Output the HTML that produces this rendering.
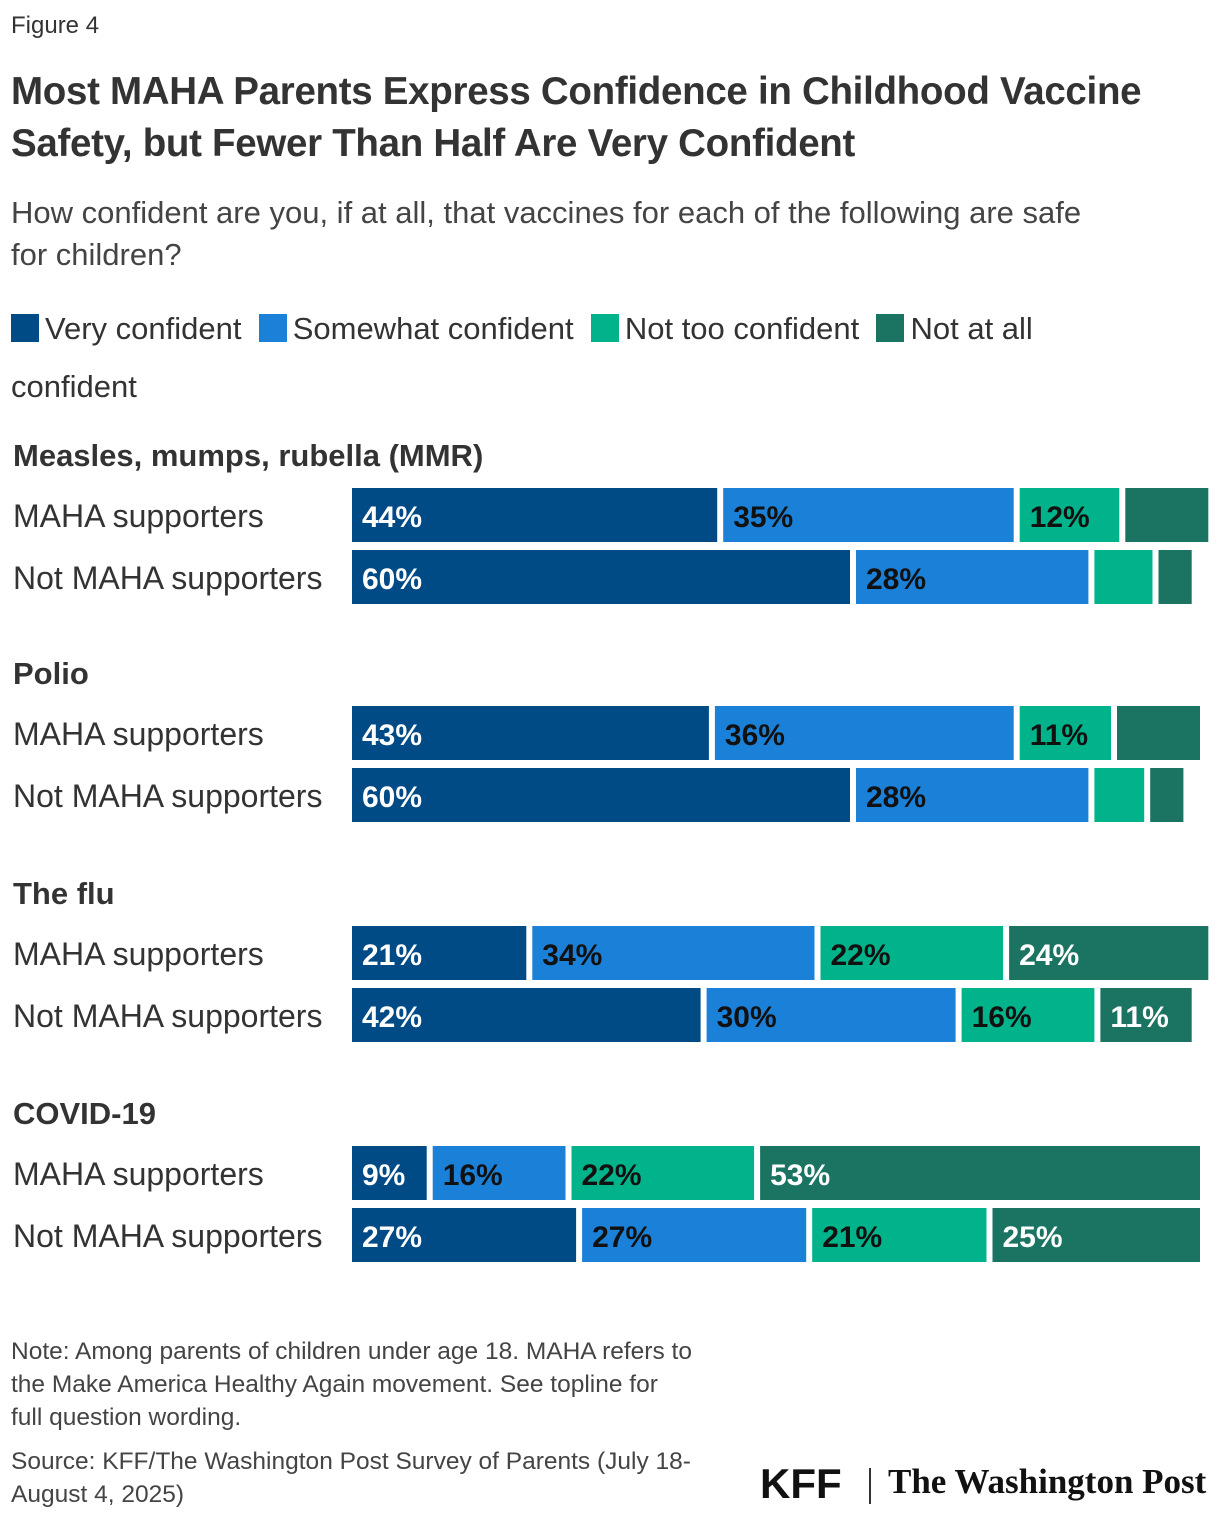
<!DOCTYPE html>
<html><head><meta charset="utf-8">
<style>
body{margin:0;width:1220px;height:1522px;background:#fff;font-family:"Liberation Sans",sans-serif;color:#222;position:relative;overflow:hidden}
.abs{position:absolute;white-space:nowrap}
.leg{display:inline-block;width:28px;height:28px;vertical-align:-3px;margin-right:6px}
</style></head><body>
<div class="abs" style="left:11px;top:12px;font-size:24px;color:#333">Figure 4</div>
<div class="abs" style="left:11px;top:66px;font-size:38.5px;font-weight:bold;line-height:52px;color:#333;letter-spacing:-0.3px">Most MAHA Parents Express Confidence in Childhood Vaccine<br>Safety, but Fewer Than Half Are Very Confident</div>
<div class="abs" style="left:11px;top:192px;font-size:31px;line-height:42px;color:#444">How confident are you, if at all, that vaccines for each of the following are safe<br>for children?</div>
<div class="abs" style="left:11px;top:300px;font-size:31px;line-height:58px;color:#333;white-space:normal;width:1150px">
<span><span class="leg" style="background:#004a86"></span>Very confident</span>&nbsp;
<span><span class="leg" style="background:#1b80d8"></span>Somewhat confident</span>&nbsp;
<span><span class="leg" style="background:#00b38a"></span>Not too confident</span>&nbsp;
<span><span class="leg" style="background:#1b7462"></span>Not at all confident</span>
</div>
<svg id="chart" width="1220" height="1522" style="position:absolute;left:0;top:0"></svg>
<div class="abs" style="left:11px;top:1335px;font-size:24.5px;line-height:33px;color:#444">Note: Among parents of children under age 18. MAHA refers to<br>the Make America Healthy Again movement. See topline for<br>full question wording.</div>
<div class="abs" style="left:11px;top:1445px;font-size:24.5px;line-height:33px;color:#444">Source: KFF/The Washington Post Survey of Parents (July 18-<br>August 4, 2025)</div>
<div class="abs" style="left:760px;top:1460px;font-size:42px;font-weight:bold;color:#111">KFF</div>
<div class="abs" style="left:869px;top:1468px;width:2px;height:36px;background:#333"></div>
<div class="abs" style="left:888px;top:1462px;font-size:35px;font-family:'Liberation Serif',serif;font-weight:bold;color:#111">The Washington Post</div>
<script>
const categories=["Measles, mumps, rubella (MMR)","Polio","The flu","COVID-19"];
const groups=["MAHA supporters","Not MAHA supporters"];
const veryConfident=[[44,60],[43,60],[21,42],[9,27]];
const somewhatConfident=[[35,28],[36,28],[34,30],[16,27]];
const notTooConfident=[[12,7],[11,6],[22,16],[22,21]];
const notAtAll=[[10,4],[10,4],[24,11],[53,25]];
const colors=["#004a86","#1b80d8","#00b38a","#1b7462"];
const textColors=["#fff","#111","#111","#fff"];
const svg=document.getElementById('chart');
const NS="http://www.w3.org/2000/svg";
const x0=352,scale=8.3,gap=6;
const xw=v=>v*scale;
const groupTop=[488,706,926,1146];
const series=[veryConfident,somewhatConfident,notTooConfident,notAtAll];
function mk(tag,attrs){const e=document.createElementNS(NS,tag);for(const k in attrs)e.setAttribute(k,attrs[k]);svg.appendChild(e);return e;}
categories.forEach((c,ci)=>{
  const h=mk('text',{x:13,y:groupTop[ci]-22,'font-size':31,'font-weight':'bold',fill:'#333'});
  h.textContent=c;
  
  
  groups.forEach((g,gi)=>{
    const y=groupTop[ci]+gi*62;
    const t=mk('text',{x:13,y:y+39,'font-size':32,fill:'#333'});
    t.textContent=g;
    
    
    let x=x0;
    series.forEach((s,si)=>{
      const v=s[ci][gi];const w=xw(v);
      const r=mk('rect',{x:x,y:y,width:w,height:54,fill:colors[si]});
      
      
      if(v>=11||si===0){
        const l=mk('text',{x:x+10,y:y+39,'font-size':30,'font-weight':'bold',fill:textColors[si]});
        l.textContent=v+'%';
        
        
      }
      x+=w+gap;
    });
  });
});
</script>
</body></html>
